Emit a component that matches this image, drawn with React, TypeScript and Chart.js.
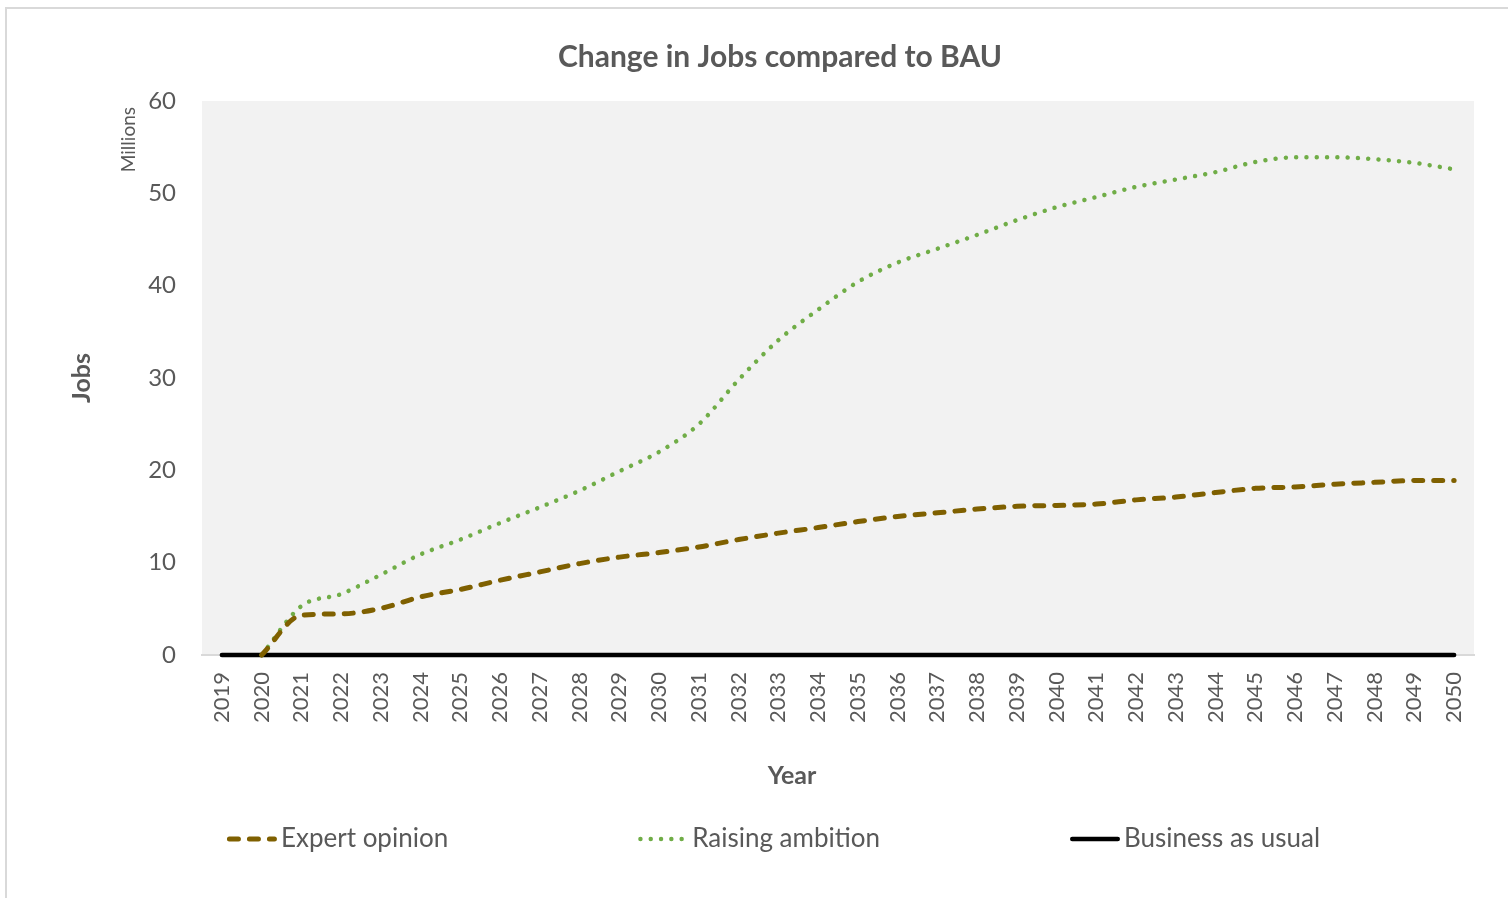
import React, { useEffect, useRef } from "react";
import { Chart, registerables } from "chart.js";

Chart.register(...registerables);

const FONT = "Lato, 'Open Sans', sans-serif";
const TEXT = "#595959";

const years = [
  "2019", "2020", "2021", "2022", "2023", "2024", "2025", "2026",
  "2027", "2028", "2029", "2030", "2031", "2032", "2033", "2034",
  "2035", "2036", "2037", "2038", "2039", "2040", "2041", "2042",
  "2043", "2044", "2045", "2046", "2047", "2048", "2049", "2050",
];

const expertOpinion = [
  null, 0, 4.3, 4.45, 5.05, 6.3, 7.1, 8.1,
  9.0, 9.9, 10.6, 11.1, 11.7, 12.5, 13.2, 13.8,
  14.45, 15.0, 15.4, 15.8, 16.1, 16.2, 16.35, 16.8,
  17.1, 17.6, 18.05, 18.2, 18.5, 18.7, 18.9, 18.9,
];

const raisingAmbition = [
  null, 0, 5.3, 6.6, 8.7, 10.9, 12.5, 14.3,
  16.0, 17.8, 19.9, 22.0, 25.0, 29.8, 34.1, 37.4,
  40.4, 42.5, 44.0, 45.5, 47.1, 48.5, 49.6, 50.7,
  51.5, 52.3, 53.4, 53.9, 53.9, 53.7, 53.3, 52.6,
];

const businessAsUsual = [
  0, 0, 0, 0, 0, 0, 0, 0,
  0, 0, 0, 0, 0, 0, 0, 0,
  0, 0, 0, 0, 0, 0, 0, 0,
  0, 0, 0, 0, 0, 0, 0, 0,
];

const seriesNames = ["Expert opinion", "Raising ambition", "Business as usual"];
const yTicks = { min: 0, max: 60, step: 10 };

const overlayPlugin = {
  id: "overlay",
  beforeDraw(chart: any) {
    const { ctx, chartArea } = chart;
    ctx.save();
    ctx.fillStyle = "#F2F2F2";
    ctx.fillRect(chartArea.left, chartArea.top, chartArea.right - chartArea.left, chartArea.bottom - chartArea.top);
    ctx.restore();
  },
  afterDraw(chart: any) {
    const { ctx, chartArea } = chart;
    ctx.save();
    // display-units label
    ctx.save();
    ctx.translate(chartArea.left - 73, chartArea.top + 6);
    ctx.rotate(-Math.PI / 2);
    ctx.fillStyle = TEXT;
    ctx.font = `19px ${FONT}`;
    ctx.textAlign = "right";
    ctx.textBaseline = "middle";
    ctx.fillText("Millions", 0, 0);
    ctx.restore();

    // x-axis title
    ctx.fillStyle = TEXT;
    ctx.font = `bold 25px ${FONT}`;
    ctx.textAlign = "center";
    ctx.textBaseline = "middle";
    ctx.fillText("Year", chartArea.left + 590, chartArea.bottom + 121);

    // legend
    const sampleW = 50;
    const gapText = 4;
    const gapItems = 190;
    ctx.font = `26px ${FONT}`;
    const datasets = chart.data.datasets;
    const widths = datasets.map((d: any) => sampleW + gapText + ctx.measureText(d.label).width);
    const total = widths.reduce((a: number, b: number) => a + b, 0) + gapItems * (datasets.length - 1);
    let x = chartArea.left + 571.5 - total / 2;
    const y = chartArea.bottom + 184;
    datasets.forEach((d: any, i: number) => {
      ctx.save();
      ctx.strokeStyle = d.borderColor;
      ctx.lineWidth = d.borderWidth;
      ctx.lineCap = d.borderCapStyle || "butt";
      ctx.setLineDash(d.borderDash || []);
      ctx.beginPath();
      const cap = d.borderCapStyle === "round" ? d.borderWidth / 2 : 0;
      ctx.moveTo(x + cap, y);
      ctx.lineTo(x + sampleW - cap, y);
      ctx.stroke();
      ctx.restore();
      ctx.fillStyle = TEXT;
      ctx.textAlign = "left";
      ctx.textBaseline = "middle";
      ctx.fillText(d.label, x + sampleW + gapText, y);
      x += widths[i] + gapItems;
    });
    ctx.restore();
  },
};

export default function App() {
  const ref = useRef<HTMLCanvasElement>(null);

  useEffect(() => {
    const chart = new Chart(ref.current as HTMLCanvasElement, {
      type: "line",
      data: {
        labels: years,
        datasets: [
          {
            label: seriesNames[0],
            data: expertOpinion,
            borderColor: "#7F6000",
            backgroundColor: "#7F6000",
            borderWidth: 5,
            borderDash: [9, 11],
            borderCapStyle: "round",
            cubicInterpolationMode: "monotone",
            pointRadius: 0,
            fill: false,
            clip: false,
          },
          {
            label: seriesNames[1],
            data: raisingAmbition,
            borderColor: "#70AD47",
            backgroundColor: "#70AD47",
            borderWidth: 4.5,
            borderDash: [0.001, 10.3],
            borderCapStyle: "round",
            cubicInterpolationMode: "monotone",
            pointRadius: 0,
            fill: false,
            clip: false,
          },
          {
            label: seriesNames[2],
            data: businessAsUsual,
            borderColor: "#000000",
            backgroundColor: "#000000",
            borderWidth: 4.5,
            borderCapStyle: "round",
            tension: 0,
            pointRadius: 0,
            fill: false,
            clip: false,
          },
        ],
      },
      options: {
        animation: false,
        responsive: false,
        events: [],
        layout: { padding: { left: 0, right: 0, top: 0, bottom: 93 } },
        plugins: {
          legend: { display: false },
          tooltip: { enabled: false },
          title: {
            display: true,
            text: "Change in Jobs compared to BAU",
            color: TEXT,
            font: { family: FONT, size: 30, weight: "bold", lineHeight: 1.2 },
            padding: { top: 30, bottom: 26 },
          },
        },
        scales: {
          x: {
            type: "category",
            offset: true,
            grid: { display: false, drawTicks: false },
            border: { display: true, color: "#D9D9D9", width: 2 },
            ticks: {
              autoSkip: false,
              minRotation: 90,
              maxRotation: 90,
              padding: 17,
              color: TEXT,
              font: { family: FONT, size: 22 },
            },
            afterFit: (s: any) => {
              s.height = 150;
            },
          },
          y: {
            type: "linear",
            min: yTicks.min,
            max: yTicks.max,
            grid: { display: false, drawTicks: false },
            border: { display: false },
            ticks: {
              stepSize: yTicks.step,
              padding: 26,
              color: TEXT,
              font: { family: FONT, size: 24 },
            },
            title: {
              display: true,
              text: "Jobs",
              color: TEXT,
              font: { family: FONT, size: 25, weight: "bold", lineHeight: 1.2 },
              padding: { top: 60, bottom: 0 },
            },
            afterFit: (s: any) => {
              s.width = 195;
            },
          },
          y2: {
            type: "linear",
            position: "right",
            display: true,
            grid: { display: false, drawTicks: false },
            border: { display: false },
            ticks: { display: false },
            afterFit: (s: any) => {
              s.width = 79;
            },
          },
        },
      } as any,
      plugins: [overlayPlugin],
    });
    return () => chart.destroy();
  }, []);

  return (
    <div
      style={{
        position: "fixed",
        left: 5,
        top: 7,
        width: 1600,
        height: 920,
        borderLeft: "2px solid #D9D9D9",
        borderTop: "2px solid #D9D9D9",
        background: "#ffffff",
      }}
    >
      <canvas ref={ref} width={1546} height={889} style={{ display: "block" }} />
    </div>
  );
}
